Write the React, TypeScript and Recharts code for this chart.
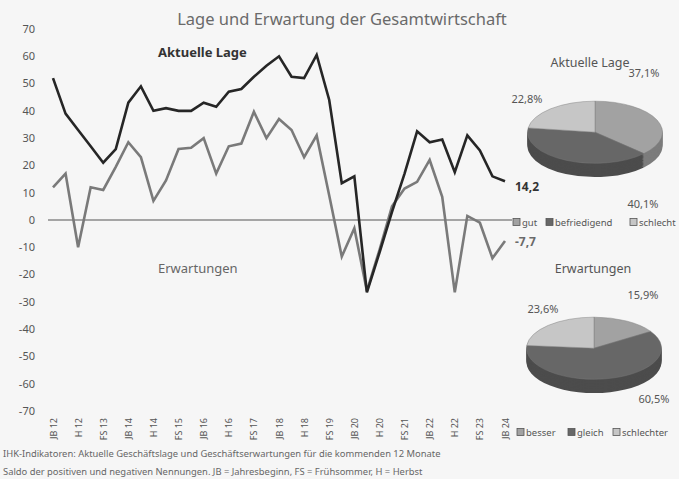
import React from "react";
import { LineChart, Line, XAxis, YAxis, ReferenceLine, LabelList, PieChart, Pie, Cell } from "recharts";

const categories = [
  "JB 12", "FS 12", "H 12", "JB 13", "FS 13", "H 13", "JB 14", "FS 14", "H 14",
  "JB 15", "FS 15", "H 15", "JB 16", "FS 16", "H 16", "JB 17", "FS 17", "H 17",
  "JB 18", "FS 18", "H 18", "JB 19", "FS 19", "H 19", "JB 20", "FS 20", "H 20",
  "JB 21", "FS 21", "H 21", "JB 22", "FS 22", "H 22", "JB 23", "FS 23", "H 23", "JB 24",
];

const aktuelleLage = [
  52, 39, 33, 27, 21, 26, 43, 49, 40, 41, 40, 40, 43, 41.5, 47, 48, 52.5, 56.5, 60,
  52.5, 52, 60.5, 44, 13.5, 16, -26.5, -12, 3, 17, 32.5, 28.5, 29.5, 17.5, 31, 25.5, 16, 14.2,
];

const erwartungen = [
  12, 17, -10, 12, 11, 19.5, 28.5, 23, 7, 14.5, 26, 26.5, 30, 17, 27, 28, 39.7, 30, 37,
  33, 23, 31, 9, -13.4, -3, -26, -11, 5, 11.5, 14, 22, 8.5, -26.5, 1.5, -1, -14, -7.7,
];

const yTicks = [70, 60, 50, 40, 30, 20, 10, 0, -10, -20, -30, -40, -50, -60, -70];

const lageNames = ["gut", "befriedigend", "schlecht"];
const lageShares = [37.1, 40.1, 22.8];
const erwNames = ["besser", "gleich", "schlechter"];
const erwShares = [15.9, 60.5, 23.6];

const topColors = ["#a2a2a2", "#676767", "#c6c6c6"];
const sideColors = ["#7c7c7c", "#4c4c4c", "#9a9a9a"];

const FONT = "'Noto Sans', 'DejaVu Sans', sans-serif";

const lineData = categories.map((c, i) => ({
  label: c,
  lage: aktuelleLage[i],
  erw: erwartungen[i],
}));

const fmt = (v: number) => String(v).replace(".", ",");

const XTick = (props: any) => {
  const { x, y, payload } = props;
  const idx = payload && payload.index !== undefined ? payload.index : props.index;
  if (idx % 2 === 1) return null;
  return (
    <text
      transform={`translate(${x},${y}) rotate(-90)`}
      textAnchor="end"
      dominantBaseline="central"
      fontSize={9}
      fill="#555"
      fontFamily={FONT}
    >
      {payload.value}
    </text>
  );
};

const endLabel = (color: string, dy: number) => (props: any) => {
  const { x, y, value, index } = props;
  if (index !== categories.length - 1) return null;
  return (
    <text x={x + 10} y={y + dy} fontSize={12} fontWeight={700} fill={color} fontFamily={FONT} dominantBaseline="central">
      {fmt(value)}
    </text>
  );
};

const sideOffsets = [30, 27, 24, 21, 18, 15, 12, 9, 6, 3];

const Pie3D = ({ values, left, top }: { values: number[]; left: number; top: number }) => {
  const data = values.map((v, i) => ({ name: String(i), value: v }));
  return (
    <div
      style={{
        position: "absolute",
        left,
        top,
        width: 160,
        height: 200,
        transform: "scaleY(0.46)",
        transformOrigin: "0 0",
      }}
    >
      <PieChart width={160} height={200} margin={{ top: 0, right: 0, bottom: 0, left: 0 }}>
        {sideOffsets.map((o) => (
          <Pie
            key={o}
            data={data}
            dataKey="value"
            cx={80}
            cy={70 + o}
            outerRadius={67.5}
            startAngle={90}
            endAngle={-270}
            stroke="none"
            isAnimationActive={false}
          >
            {data.map((d, i) => (
              <Cell key={i} fill={sideColors[i]} />
            ))}
          </Pie>
        ))}
        <Pie
          data={data}
          dataKey="value"
          cx={80}
          cy={70}
          outerRadius={67.5}
          startAngle={90}
          endAngle={-270}
          stroke="#7a7a7a"
          strokeWidth={0.6}
          isAnimationActive={false}
        >
          {data.map((d, i) => (
            <Cell key={i} fill={topColors[i]} />
          ))}
        </Pie>
      </PieChart>
    </div>
  );
};

const LegendRow = ({ names, xs, y }: { names: string[]; xs: number[]; y: number }) => (
  <g>
    {names.map((n, i) => (
      <g key={n}>
        <rect x={xs[i]} y={y - 3.5} width={7} height={7} fill={topColors[i]} stroke="#555" strokeWidth={0.8} />
        <text x={xs[i] + 9} y={y} fontSize={9.5} fill="#555" dominantBaseline="central" fontFamily={FONT}>
          {n}
        </text>
      </g>
    ))}
  </g>
);

export default function App() {
  return (
    <div
      style={{
        position: "absolute",
        left: 0,
        top: 0,
        width: 679,
        height: 479,
        background: "#f6f6f6",
        fontFamily: FONT,
        overflow: "hidden",
      }}
    >
      <div style={{ position: "absolute", left: 0, top: 0 }}>
        <LineChart width={560} height={450} data={lineData} margin={{ top: 29, right: 48, bottom: 4, left: 0 }}>
          <XAxis
            dataKey="label"
            interval={0}
            axisLine={false}
            tickLine={false}
            tickSize={0}
            tickMargin={7}
            height={35}
            padding={{ left: 5, right: 7 }}
            tick={<XTick />}
          />
          <YAxis
            type="number"
            domain={[-70, 70]}
            ticks={yTicks}
            interval={0}
            width={48}
            axisLine={false}
            tickLine={false}
            tickSize={0}
            tickMargin={13}
            tick={{ fontSize: 11, fill: "#555", fontFamily: FONT }}
          />
          <ReferenceLine y={0} stroke="#8a8a8a" strokeWidth={1.6} />
          <Line
            type="linear"
            dataKey="erw"
            stroke="#7a7a7a"
            strokeWidth={2.6}
            dot={false}
            isAnimationActive={false}
          >
            <LabelList dataKey="erw" content={endLabel("#6a6a6a", 0)} />
          </Line>
          <Line
            type="linear"
            dataKey="lage"
            stroke="#262626"
            strokeWidth={2.6}
            dot={false}
            isAnimationActive={false}
          >
            <LabelList dataKey="lage" content={endLabel("#333", 5)} />
          </Line>
        </LineChart>
      </div>

      <Pie3D values={lageShares} left={514.5} top={99.8} />
      <Pie3D values={erwShares} left={513.5} top={315.8} />

      <svg width={679} height={479} style={{ position: "absolute", left: 0, top: 0, pointerEvents: "none" }}>
        <text x={342} y={18} textAnchor="middle" dominantBaseline="central" fontSize={16.5} fill="#6a6a6a" fontFamily={FONT}>
          Lage und Erwartung der Gesamtwirtschaft
        </text>
        <text x={158} y={52} dominantBaseline="central" fontSize={13} fontWeight={700} fill="#333" fontFamily={FONT}>
          Aktuelle Lage
        </text>
        <text x={158} y={268} dominantBaseline="central" fontSize={13} fill="#666" fontFamily={FONT}>
          Erwartungen
        </text>

        <text x={590} y={62} textAnchor="middle" dominantBaseline="central" fontSize={12.5} fill="#555" fontFamily={FONT}>
          Aktuelle Lage
        </text>
        <text x={644} y={72} textAnchor="middle" dominantBaseline="central" fontSize={11} fill="#555" fontFamily={FONT}>
          {fmt(lageShares[0])}%
        </text>
        <text x={643} y={203} textAnchor="middle" dominantBaseline="central" fontSize={11} fill="#555" fontFamily={FONT}>
          {fmt(lageShares[1])}%
        </text>
        <text x={527} y={98} textAnchor="middle" dominantBaseline="central" fontSize={11} fill="#555" fontFamily={FONT}>
          {fmt(lageShares[2])}%
        </text>
        <LegendRow names={lageNames} xs={[513, 546, 630]} y={222} />

        <text x={593} y={268} textAnchor="middle" dominantBaseline="central" fontSize={12.5} fill="#555" fontFamily={FONT}>
          Erwartungen
        </text>
        <text x={643} y={294} textAnchor="middle" dominantBaseline="central" fontSize={11} fill="#555" fontFamily={FONT}>
          {fmt(erwShares[0])}%
        </text>
        <text x={654} y={398} textAnchor="middle" dominantBaseline="central" fontSize={11} fill="#555" fontFamily={FONT}>
          {fmt(erwShares[1])}%
        </text>
        <text x={543} y={308} textAnchor="middle" dominantBaseline="central" fontSize={11} fill="#555" fontFamily={FONT}>
          {fmt(erwShares[2])}%
        </text>
        <LegendRow names={erwNames} xs={[517, 568, 613]} y={432} />

        <text x={3} y={453} dominantBaseline="central" fontSize={9.4} fill="#666" fontFamily={FONT}>
          IHK-Indikatoren: Aktuelle Geschäftslage und Geschäftserwartungen für die kommenden 12 Monate
        </text>
        <text x={3} y={471} dominantBaseline="central" fontSize={9.4} fill="#666" fontFamily={FONT}>
          Saldo der positiven und negativen Nennungen. JB = Jahresbeginn, FS = Frühsommer, H = Herbst
        </text>
      </svg>
    </div>
  );
}
